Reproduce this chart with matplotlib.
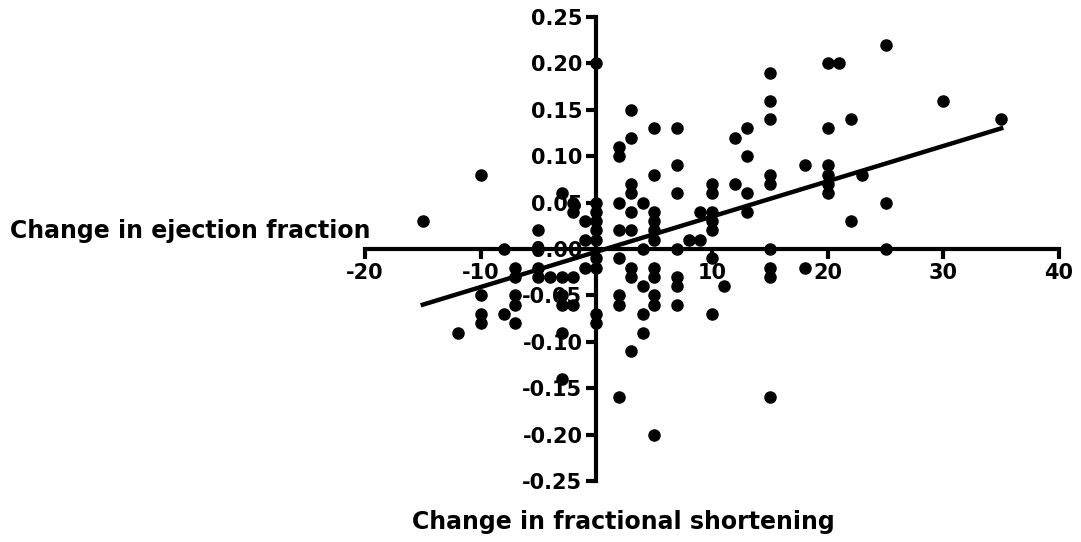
import matplotlib
matplotlib.use("Agg")
import matplotlib.pyplot as plt
import numpy as np

plt.rcParams['font.family'] = ['DejaVu Sans']

# Data (x = change in FS, y = change in EF)
fs_change = [
    -15, -12,
    -10, -10, -10, -10,
    -8, -8,
    -7, -7, -7, -7, -7,
    -5, -5, -5, -5,
    -4,
    -3, -3, -3, -3, -3, -3,
    -2, -2, -2, -2,
    -1, -1, -1,
    0, 0, 0, 0, 0, 0, 0, 0, 0, 0,
    2, 2, 2, 2, 2, 2, 2, 2,
    3, 3, 3, 3, 3, 3, 3, 3, 3,
    4, 4, 4, 4, 4,
    5, 5, 5, 5, 5, 5, 5, 5, 5, 5, 5,
    7, 7, 7, 7, 7, 7, 7,
    8,
    9, 9,
    10, 10, 10, 10, 10, 10, 10,
    11,
    12, 12,
    13, 13, 13, 13,
    15, 15, 15, 15, 15, 15, 15, 15, 15,
    18, 18,
    20, 20, 20, 20, 20, 20,
    21,
    22, 22,
    23,
    25, 25, 25,
    30,
    35,
]
ef_change = [
    0.03, -0.09,
    0.08, -0.05, -0.07, -0.08,
    0.00, -0.07,
    -0.02, -0.03, -0.05, -0.06, -0.08,
    0.02, 0.00, -0.02, -0.03,
    -0.03,
    0.06, -0.03, -0.05, -0.06, -0.09, -0.14,
    0.05, 0.04, -0.03, -0.06,
    0.03, 0.01, -0.02,
    0.20, 0.05, 0.04, 0.03, 0.02, 0.01, -0.01, -0.02, -0.07, -0.08,
    0.11, 0.10, 0.05, 0.02, -0.01, -0.05, -0.06, -0.16,
    0.15, 0.12, 0.07, 0.06, 0.04, 0.02, -0.02, -0.03, -0.11,
    0.05, 0.00, -0.04, -0.07, -0.09,
    0.13, 0.08, 0.04, 0.03, 0.02, 0.01, -0.02, -0.03, -0.05, -0.06, -0.20,
    0.13, 0.09, 0.06, 0.00, -0.03, -0.04, -0.06,
    0.01,
    0.04, 0.01,
    0.07, 0.06, 0.04, 0.03, 0.02, -0.01, -0.07,
    -0.04,
    0.12, 0.07,
    0.13, 0.10, 0.06, 0.04,
    0.19, 0.16, 0.14, 0.08, 0.07, 0.00, -0.02, -0.03, -0.16,
    0.09, -0.02,
    0.20, 0.13, 0.09, 0.08, 0.07, 0.06,
    0.20,
    0.14, 0.03,
    0.08,
    0.22, 0.05, 0.00,
    0.16,
    0.14,
]

# Regression line endpoints
fit_x = [-15, 35]
fit_y = [-0.060, 0.130]

x_ticks = [-20, -10, 10, 20, 30, 40]
x_tick_labels = ['-20', '-10', '10', '20', '30', '40']
y_ticks = [-0.25, -0.20, -0.15, -0.10, -0.05, 0.00, 0.05, 0.10, 0.15, 0.20, 0.25]
y_tick_labels = ['-0.25', '-0.20', '-0.15', '-0.10', '-0.05', '0.00',
                 '0.05', '0.10', '0.15', '0.20', '0.25']

fig = plt.figure(figsize=(10.81, 5.42), dpi=100)
ax = fig.add_axes([365 / 1081, 1 - 481 / 542, 694 / 1081, 464 / 542])

ax.plot(fs_change, ef_change, 'o', color='black', markersize=8, zorder=4,
        clip_on=False)
ax.plot(fit_x, fit_y, '-', color='black', linewidth=3.2, zorder=5)

ax.set_xlim(-20, 40)
ax.set_ylim(-0.25, 0.25)

for side in ['top', 'right']:
    ax.spines[side].set_visible(False)
ax.spines['left'].set_position(('data', 0))
ax.spines['bottom'].set_position(('data', 0))
for side in ['left', 'bottom']:
    ax.spines[side].set_linewidth(3.0)
    ax.spines[side].set_zorder(3)

ax.set_xticks(x_ticks)
ax.set_xticklabels(x_tick_labels)
ax.set_yticks(y_ticks)
ax.set_yticklabels(y_tick_labels)
ax.tick_params(axis='both', direction='out', length=7, width=3.0,
               labelsize=15, pad=3)
for lbl in ax.get_xticklabels() + ax.get_yticklabels():
    lbl.set_fontweight('bold')

fig.text(10 / 1081, 1 - 231 / 542, 'Change in ejection fraction',
         fontsize=17, fontweight='bold', ha='left', va='center')
fig.text(623 / 1081, 1 - 522 / 542, 'Change in fractional shortening',
         fontsize=17, fontweight='bold', ha='center', va='center')

fig.savefig('out.png', dpi=100)
